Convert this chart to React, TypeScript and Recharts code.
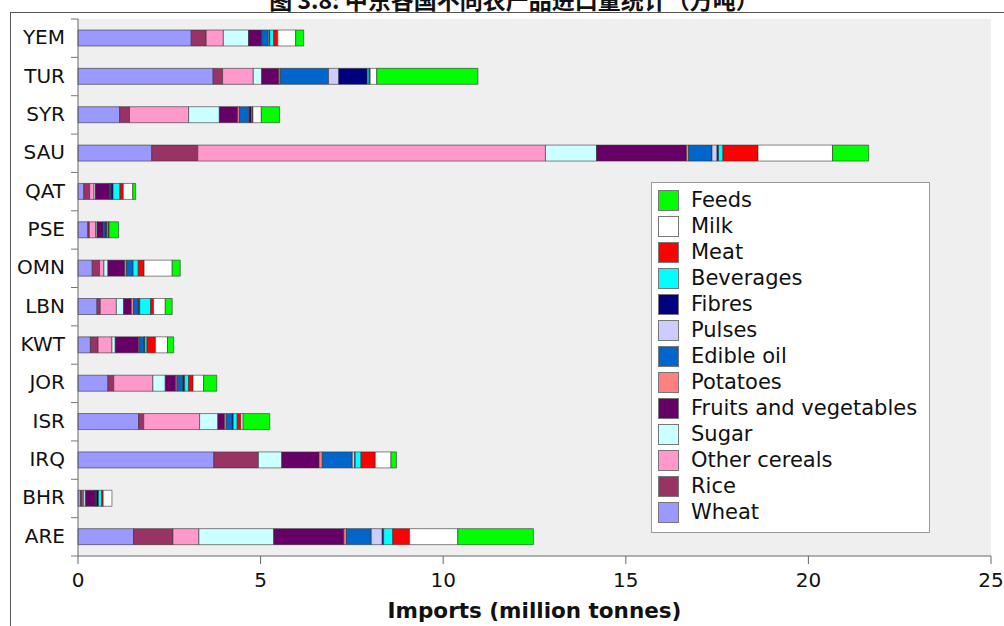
import React from 'react';
import { BarChart, Bar, XAxis, YAxis, Legend, CartesianGrid } from 'recharts';

const countries = ['YEM', 'TUR', 'SYR', 'SAU', 'QAT', 'PSE', 'OMN', 'LBN', 'KWT', 'JOR', 'ISR', 'IRQ', 'BHR', 'ARE'];

const wheat = [3.10, 3.70, 1.14, 2.02, 0.16, 0.27, 0.39, 0.52, 0.34, 0.82, 1.66, 3.72, 0.07, 1.52];
const rice = [0.41, 0.26, 0.27, 1.26, 0.16, 0.04, 0.20, 0.09, 0.21, 0.16, 0.14, 1.20, 0.05, 1.08];
const otherCereals = [0.47, 0.84, 1.62, 9.52, 0.12, 0.17, 0.12, 0.44, 0.38, 1.07, 1.53, 0.02, 0.04, 0.71];
const sugar = [0.69, 0.23, 0.84, 1.40, 0.04, 0.04, 0.11, 0.20, 0.09, 0.34, 0.50, 0.64, 0.05, 2.05];
const fruitsVeg = [0.35, 0.47, 0.50, 2.46, 0.38, 0.17, 0.46, 0.21, 0.64, 0.28, 0.18, 1.02, 0.26, 1.92];
const potatoes = [0.01, 0.04, 0.05, 0.06, 0.01, 0.02, 0.05, 0.06, 0.03, 0.04, 0.05, 0.09, 0.01, 0.07];
const edibleOil = [0.17, 1.32, 0.25, 0.64, 0.03, 0.04, 0.18, 0.12, 0.12, 0.16, 0.15, 0.82, 0.02, 0.68];
const pulses = [0.03, 0.28, 0.02, 0.14, 0.01, 0.01, 0.00, 0.02, 0.01, 0.01, 0.01, 0.07, 0.01, 0.30];
const fibres = [0.02, 0.78, 0.05, 0.04, 0.05, 0.03, 0.00, 0.03, 0.01, 0.04, 0.03, 0.01, 0.05, 0.04];
const beverages = [0.11, 0.05, 0.03, 0.12, 0.19, 0.04, 0.14, 0.30, 0.06, 0.11, 0.11, 0.16, 0.09, 0.25];
const meat = [0.11, 0.03, 0.02, 0.96, 0.09, 0.02, 0.16, 0.08, 0.23, 0.12, 0.10, 0.39, 0.04, 0.46];
const milk = [0.49, 0.18, 0.23, 2.04, 0.26, 0.00, 0.77, 0.32, 0.33, 0.29, 0.06, 0.43, 0.24, 1.32];
const feeds = [0.22, 2.77, 0.50, 0.99, 0.08, 0.26, 0.22, 0.19, 0.17, 0.36, 0.73, 0.15, 0.00, 2.07];

const seriesNames = ['Wheat', 'Rice', 'Other cereals', 'Sugar', 'Fruits and vegetables', 'Potatoes', 'Edible oil', 'Pulses', 'Fibres', 'Beverages', 'Meat', 'Milk', 'Feeds'];
const seriesColors = ['#9999ff', '#993366', '#ff99cc', '#ccffff', '#660066', '#ff8080', '#0066cc', '#ccccff', '#000080', '#00ffff', '#ff0000', '#ffffff', '#00ff00'];
const seriesValues = [wheat, rice, otherCereals, sugar, fruitsVeg, potatoes, edibleOil, pulses, fibres, beverages, meat, milk, feeds];

const xTicks = [0, 5, 10, 15, 20, 25];
const xLabel = 'Imports (million tonnes)';
const title = '图 3.8: 中东各国不同农产品进口量统计（万吨）';

const data = countries.map((c, i) => {
  const row: Record<string, any> = { country: c };
  seriesNames.forEach((s, k) => {
    row[s] = seriesValues[k][i];
  });
  return row;
});

const W = 1004;
const H = 626;
const MARGIN = { top: 19, right: 13, left: 0, bottom: 0 };
const Y_W = 78;
const X_H = 70;
const PLOT_H = H - MARGIN.top - MARGIN.bottom - X_H;
const BAND = PLOT_H / countries.length;
const FONT = "'DejaVu Sans', sans-serif";

function YTick(props: any) {
  const { x, y, payload, index } = props;
  return (
    <g>
      <line x1={x + 6} x2={x + 13} y1={y - BAND / 2} y2={y - BAND / 2} stroke="#777" strokeWidth={1} />
      {index === countries.length - 1 && (
        <line x1={x + 6} x2={x + 13} y1={y + BAND / 2} y2={y + BAND / 2} stroke="#777" strokeWidth={1} />
      )}
      <text x={x} y={y - 1} textAnchor="end" dominantBaseline="central" fontSize={20} fontFamily={FONT} fill="#111">
        {payload.value}
      </text>
    </g>
  );
}

function LegendBox() {
  const order = seriesNames.map((_, i) => i).reverse();
  return (
    <div
      style={{
        background: '#fff',
        border: '1px solid #999',
        width: 279,
        height: 351,
        boxSizing: 'border-box',
        padding: '4px 0 0 6px',
        fontFamily: FONT,
        fontSize: 21,
        color: '#111',
      }}
    >
      {order.map((i) => (
        <div key={seriesNames[i]} style={{ display: 'flex', alignItems: 'center', height: 26 }}>
          <span
            style={{
              width: 21,
              height: 21,
              background: seriesColors[i],
              border: '1px solid #777',
              boxSizing: 'border-box',
              flex: '0 0 auto',
            }}
          />
          <span style={{ marginLeft: 12, whiteSpace: 'nowrap', lineHeight: '26px' }}>{seriesNames[i]}</span>
        </div>
      ))}
    </div>
  );
}

export default function App() {
  return (
    <div style={{ position: 'absolute', left: 0, top: 0, width: W, height: H, overflow: 'hidden', background: '#fff' }}>
      <div
        style={{
          position: 'absolute',
          left: 10,
          top: 12,
          width: 1010,
          height: 700,
          border: '1.5px solid #555',
          boxSizing: 'border-box',
        }}
      />
      <div
        style={{
          position: 'absolute',
          left: 14,
          top: -13,
          width: 1000,
          textAlign: 'center',
          fontFamily: "'Noto Sans CJK SC', sans-serif",
          fontWeight: 'bold',
          fontSize: 23,
          lineHeight: '24px',
          color: '#111',
          whiteSpace: 'nowrap',
        }}
      >
        {title}
      </div>
      <div style={{ position: 'absolute', left: 0, top: 0 }}>
        <BarChart width={W} height={H} data={data} layout="vertical" margin={MARGIN} barSize={16}>
          <CartesianGrid horizontal={false} vertical={false} fill="#efefef" />
          <XAxis
            type="number"
            domain={[0, 25]}
            ticks={xTicks}
            height={X_H}
            tickSize={8}
            tickMargin={9}
            stroke="#666"
            tick={{ fill: '#111', fontSize: 20, fontFamily: FONT }}
            label={{ value: xLabel, position: 'insideBottom', offset: 8, style: { fontSize: 21.5, fontWeight: 'bold', fontFamily: FONT, fill: '#111' } }}
          />
          <XAxis
            xAxisId="top"
            orientation="top"
            type="number"
            domain={[0, 25]}
            height={0}
            tick={false}
            tickLine={false}
            axisLine={{ stroke: '#d0d0d0' }}
          />
          <YAxis
            type="category"
            dataKey="country"
            width={Y_W}
            tickSize={7}
            tickMargin={6}
            tickLine={false}
            stroke="#666"
            tick={<YTick />}
            interval={0}
          />
          <YAxis
            yAxisId="right"
            orientation="right"
            type="category"
            dataKey="country"
            width={0}
            tick={false}
            tickLine={false}
            axisLine={{ stroke: '#aaa' }}
          />
          <Legend
            layout="vertical"
            align="center"
            verticalAlign="middle"
            content={<LegendBox />}
            wrapperStyle={{ left: 651, top: 182, width: 279, height: 351 }}
          />
          {seriesNames.map((s, k) => (
            <Bar
              key={s}
              dataKey={s}
              name={s}
              stackId="a"
              fill={seriesColors[k]}
              stroke="#333"
              strokeOpacity={0.6}
              strokeWidth={1}
              isAnimationActive={false}
            />
          ))}
        </BarChart>
      </div>
    </div>
  );
}
